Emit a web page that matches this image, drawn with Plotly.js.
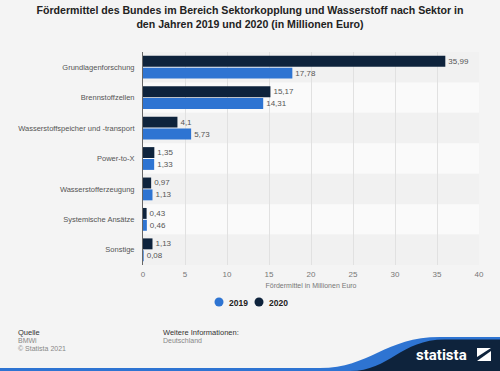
<!DOCTYPE html>
<html>
<head>
<meta charset="utf-8">
<script src="https://cdn.plot.ly/plotly-3.0.1.min.js"></script>
<style>html,body{margin:0;padding:0;background:#f4f4f4;}#chart{width:500px;height:371px;}</style>
</head>
<body>
<div id="chart"></div>
<script>
const categories = ["Grundlagenforschung","Brennstoffzellen","Wasserstoffspeicher und -transport","Power-to-X","Wasserstofferzeugung","Systemische Ansätze","Sonstige"];
const values2019 = [17.78, 14.31, 5.73, 1.33, 1.13, 0.46, 0.08];
const values2020 = [35.99, 15.17, 4.1, 1.35, 0.97, 0.43, 1.13];
const seriesNames = ["2019", "2020"];
const xTicks = [0, 5, 10, 15, 20, 25, 30, 35, 40];

const C2019 = "#2e74d2", C2020 = "#0e233c";
const fmt = v => String(v).replace(".", ",");

const L = 143, R = 479, T = 52, B = 265;
const px = x => (x - L) / (R - L);
const py = y => (B - y) / (B - T);

const traces = [
  {type:"bar", orientation:"h", name:seriesNames[1], y:categories, x:values2020, marker:{color:C2020},
   text:values2020.map(fmt), textposition:"outside", cliponaxis:false,
   textfont:{size:8, color:"#555"}, showlegend:false, hoverinfo:"none"},
  {type:"bar", orientation:"h", name:seriesNames[0], y:categories, x:values2019, marker:{color:C2019},
   text:values2019.map(fmt), textposition:"outside", cliponaxis:false,
   textfont:{size:8, color:"#555"}, showlegend:false, hoverinfo:"none"}
];

const shapes = [];
categories.forEach((c, i) => {
  shapes.push({type:"rect", xref:"paper", yref:"y", x0:0, x1:1, y0:i-0.5, y1:i+0.5,
    fillcolor: i % 2 === 0 ? "#f1f1f1" : "#fafafa", line:{width:0}, layer:"below"});
});
// legend (manual, circles)
const legendItems = [{name:seriesNames[0], color:C2019, cx:219}, {name:seriesNames[1], color:C2020, cx:259}];
legendItems.forEach(it => {
  shapes.push({type:"circle", xref:"paper", yref:"paper", line:{width:0}, fillcolor:it.color,
    x0:px(it.cx-4.5), x1:px(it.cx+4.5), y0:py(302+4.5), y1:py(302-4.5)});
});
// footer logo
shapes.push({type:"path", xref:"paper", yref:"paper", line:{width:0}, fillcolor:"#2e74d2",
  path:`M ${px(0)},${py(371)} L ${px(0)},${py(368)} L ${px(320)},${py(368)} C ${px(370)},${py(368)} ${px(385)},${py(337)} ${px(440)},${py(337)} L ${px(500)},${py(337)} L ${px(500)},${py(371)} Z`});
shapes.push({type:"path", xref:"paper", yref:"paper", line:{width:0}, fillcolor:"#0e233c",
  path:`M ${px(350)},${py(371)} C ${px(390)},${py(371)} ${px(400)},${py(339.5)} ${px(445)},${py(339.5)} L ${px(500)},${py(339.5)} L ${px(500)},${py(371)} Z`});
shapes.push({type:"path", xref:"paper", yref:"paper", line:{width:0}, fillcolor:"#ffffff",
  path:`M ${px(477)},${py(348)} L ${px(491)},${py(348)} L ${px(477)},${py(357)} Z`});
shapes.push({type:"path", xref:"paper", yref:"paper", line:{width:0}, fillcolor:"#ffffff",
  path:`M ${px(491)},${py(351)} L ${px(491)},${py(361)} L ${px(477)},${py(361)} Z`});

const annotations = [
  {text:"Quelle", x:px(16), y:py(332), xref:"paper", yref:"paper", xanchor:"left", yanchor:"middle", showarrow:false, font:{size:7.5, color:"#333"}},
  {text:"BMWi", x:px(16), y:py(340.5), xref:"paper", yref:"paper", xanchor:"left", yanchor:"middle", showarrow:false, font:{size:7, color:"#888"}},
  {text:"© Statista 2021", x:px(16), y:py(348.5), xref:"paper", yref:"paper", xanchor:"left", yanchor:"middle", showarrow:false, font:{size:7, color:"#888"}},
  {text:"Weitere Informationen:", x:px(161), y:py(332), xref:"paper", yref:"paper", xanchor:"left", yanchor:"middle", showarrow:false, font:{size:7.5, color:"#333"}},
  {text:"Deutschland", x:px(161), y:py(340.5), xref:"paper", yref:"paper", xanchor:"left", yanchor:"middle", showarrow:false, font:{size:7, color:"#888"}},
  {text:"<b>statista</b>", x:px(441), y:py(355), xref:"paper", yref:"paper", xanchor:"center", yanchor:"middle", showarrow:false, font:{size:15, color:"#ffffff", family:"Roboto, Liberation Sans, Arial"}}
];
legendItems.forEach(it => {
  annotations.push({text:"<b>"+it.name+"</b>", x:px(it.cx+8), y:py(302.5), xref:"paper", yref:"paper", xanchor:"left", yanchor:"middle",
    showarrow:false, font:{size:8.5, color:"#222"}});
});

const layout = {
  width:500, height:371,
  paper_bgcolor:"#f4f4f4", plot_bgcolor:"#f4f4f4",
  font:{family:"Liberation Sans, Arial, sans-serif", color:"#555"},
  margin:{l:L, r:500-R, t:T, b:371-B, pad:0},
  title:{text:"<b>Fördermittel des Bundes im Bereich Sektorkopplung und Wasserstoff nach Sektor in<br>den Jahren 2019 und 2020 (in Millionen Euro)</b>",
    x:0.5, xanchor:"center", y:1-14/371, yanchor:"top", yref:"container", pad:{t:0},
    font:{size:10.6, color:"#222"}},
  barmode:"group", bargap:0.22, bargroupgap:0.08,
  xaxis:{range:[0,40], tickvals:xTicks, ticktext:xTicks.map(String), showgrid:true, gridcolor:"#e1e1e1", gridwidth:1,
    zeroline:false, showline:false, tickfont:{size:8, color:"#777"}, ticks:"", ticklabelstandoff:3,
    title:{text:"Fördermittel in Millionen Euro", font:{size:7, color:"#777"}, standoff:5}, fixedrange:true},
  yaxis:{type:"category", categoryorder:"array", categoryarray:categories, autorange:"reversed",
    showline:true, linecolor:"#666", linewidth:1, showgrid:false, ticks:"outside", ticklen:6, tickcolor:"rgba(0,0,0,0)",
    tickfont:{size:7.5, color:"#555"}, fixedrange:true},
  showlegend:false,
  shapes:shapes, annotations:annotations
};

Plotly.newPlot("chart", traces, layout, {displayModeBar:false, staticPlot:true});
</script>
</body>
</html>
